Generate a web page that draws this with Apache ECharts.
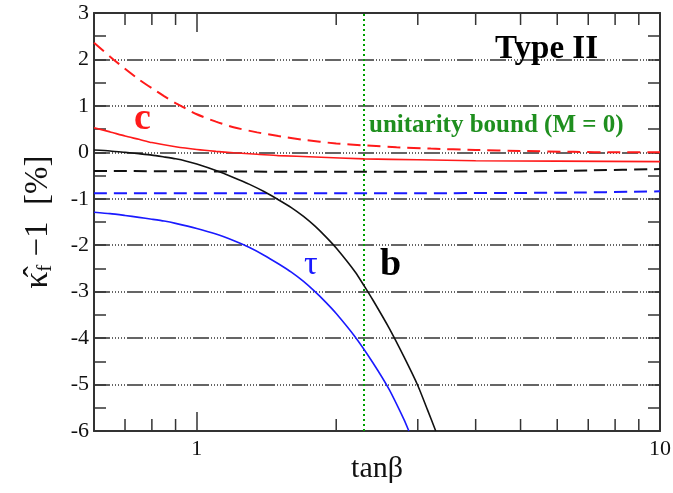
<!DOCTYPE html>
<html>
<head>
<meta charset="utf-8">
<script src="https://cdn.jsdelivr.net/npm/echarts@6/dist/echarts.min.js"></script>
<style>html,body{margin:0;padding:0;background:#fff;}#c{width:673px;height:493px;}</style>
</head>
<body>
<div id="c"></div>
<script>
// ---- data (x = tanβ, y = κ̂_f − 1 in %) ----
const curveB = [[0.6,0.05],[0.65,0.03],[0.7,0.0],[0.75,-0.03],[0.8,-0.06],[0.85,-0.1],[0.9,-0.14],[0.95,-0.19],[1.0,-0.25],[1.1,-0.39],[1.2,-0.54],[1.3,-0.69],[1.4,-0.85],[1.5,-1.02],[1.6,-1.19],[1.7,-1.38],[1.8,-1.59],[1.9,-1.82],[2.0,-2.06],[2.2,-2.58],[2.3,-2.88],[2.4,-3.18],[2.6,-3.78],[2.8,-4.4],[3.0,-5.02],[3.15,-5.55],[3.28,-6.0]];
const curveTau = [[0.6,-1.29],[0.65,-1.32],[0.7,-1.36],[0.75,-1.4],[0.8,-1.44],[0.85,-1.48],[0.9,-1.53],[1.0,-1.64],[1.1,-1.76],[1.2,-1.9],[1.3,-2.05],[1.4,-2.22],[1.5,-2.4],[1.6,-2.58],[1.7,-2.78],[1.8,-3.0],[1.9,-3.23],[2.0,-3.47],[2.2,-3.98],[2.4,-4.53],[2.6,-5.1],[2.8,-5.75],[2.87,-6.0]];
const curveC = [[0.6,0.53],[0.65,0.44],[0.7,0.35],[0.75,0.28],[0.8,0.21],[0.9,0.12],[1.0,0.06],[1.1,0.02],[1.2,-0.01],[1.35,-0.04],[1.5,-0.07],[1.8,-0.1],[2.3,-0.14],[3.0,-0.16],[4.0,-0.18],[6.0,-0.19],[10,-0.2]];
const curveCdash = [[0.6,2.36],[0.65,2.06],[0.7,1.8],[0.75,1.57],[0.8,1.38],[0.85,1.21],[0.9,1.06],[1.0,0.82],[1.1,0.66],[1.2,0.54],[1.35,0.43],[1.5,0.35],[1.7,0.27],[2.0,0.19],[2.3,0.15],[2.7,0.11],[3.2,0.08],[4.0,0.05],[5.0,0.03],[6.5,0.01],[8.0,0.0],[10,0.0]];
const curveBdash = [[0.6,-0.40],[2.0,-0.42],[5.0,-0.41],[7.0,-0.39],[10,-0.36]];
const curveTaudash = [[0.6,-0.88],[3.0,-0.88],[6.0,-0.87],[10,-0.84]];
const unitarityX = 2.29;
const xMinorTicks = [0.7,0.8,0.9,2,3,4,5,6,7,8,9];
const xRange = [0.6, 10];
const yRange = [-6, 3];

const chart = echarts.init(document.getElementById('c'));
const serif = 'Liberation Serif';
const frame = '#333';
const gridDash = [16,2,1,2,1,2,1,2,1,2,1,2];

function line(data, color, dashed, extra) {
  return Object.assign({
    type: 'line', data: data, showSymbol: false, smooth: 0.2, silent: true,
    xAxisIndex: 0, yAxisIndex: 0,
    lineStyle: { color: color, width: dashed ? 2 : 1.6, type: dashed ? [13,7] : 'solid' },
    z: 5
  }, extra || {});
}

const option = {
  animation: false,
  backgroundColor: '#fff',
  grid: { left: 94, right: 13, top: 13, bottom: 62, containLabel: false, outerBoundsMode: 'none' },
  xAxis: [
    { type: 'log', logBase: 10, min: xRange[0], max: xRange[1], position: 'bottom',
      name: 'tanβ', nameLocation: 'middle', nameGap: 23, nameMoveOverlap: false,
      nameTextStyle: { fontFamily: serif, fontSize: 30, color: '#111' },
      axisLine: { show: true, onZero: false, lineStyle: { color: frame, width: 2 } },
      axisTick: { show: true, inside: true, length: 19, lineStyle: { color: frame, width: 1.5 } },
      axisLabel: { showMinLabel: false, fontFamily: serif, fontSize: 22, color: '#111', margin: 7 },
      splitLine: { show: false }, minorTick: { show: false } },
    { type: 'log', logBase: 10, min: xRange[0], max: xRange[1], position: 'top',
      axisLine: { show: true, onZero: false, lineStyle: { color: frame, width: 2 } },
      axisTick: { show: true, inside: true, length: 19, lineStyle: { color: frame, width: 1.5 } },
      axisLabel: { show: false }, splitLine: { show: false } }
  ],
  yAxis: [
    { type: 'value', min: yRange[0], max: yRange[1], interval: 1, position: 'left',
      name: '{k|κ̂}{f|f}{m| −1  [%]}', nameLocation: 'middle', nameGap: 38,
      nameTextStyle: { fontFamily: serif, fontSize: 33, color: '#111',
        rich: {
          k: { fontFamily: serif, fontSize: 33, lineHeight: 36, color: '#111' },
          f: { fontFamily: serif, fontSize: 21, verticalAlign: 'bottom', lineHeight: 36, color: '#111' },
          m: { fontFamily: serif, fontSize: 33, lineHeight: 36, color: '#111' }
        } },
      axisLine: { show: true, lineStyle: { color: frame, width: 2 } },
      axisTick: { show: true, inside: true, length: 12, lineStyle: { color: frame, width: 1.5 } },
      minorTick: { show: true, splitNumber: 2, length: 12, lineStyle: { color: frame, width: 1.5 } },
      axisLabel: { fontFamily: serif, fontSize: 22, color: '#111', margin: 5 },
      splitLine: { show: true, lineStyle: { color: '#333', width: 1.5, type: gridDash } } },
    { type: 'value', min: yRange[0], max: yRange[1], interval: 1, position: 'right',
      axisLine: { show: true, lineStyle: { color: frame, width: 2 } },
      axisTick: { show: true, inside: true, length: 12, lineStyle: { color: frame, width: 1.5 } },
      minorTick: { show: true, splitNumber: 2, length: 12, lineStyle: { color: frame, width: 1.5 } },
      axisLabel: { show: false }, splitLine: { show: false } }
  ],
  series: [
    line(curveCdash, '#ff1a1a', true),
    line(curveC, '#ff1a1a', false),
    line(curveBdash, '#111', true),
    line(curveTaudash, '#1a1aff', true),
    line(curveB, '#111', false),
    line(curveTau, '#1a1aff', false, {
      markLine: { silent: true, symbol: ['none','none'], label: { show: false },
        lineStyle: { color: '#00a000', width: 2, type: [2,3] },
        data: [{ xAxis: unitarityX }] }
    }),
    { type: 'custom', xAxisIndex: 0, yAxisIndex: 0, silent: true, z: 6,
      data: xMinorTicks.map(v => [v, yRange[0]]),
      renderItem: function (params, api) {
        const v = api.value(0);
        const pb = api.coord([v, yRange[0]]);
        const pt = api.coord([v, yRange[1]]);
        const st = { stroke: frame, lineWidth: 1.5 };
        return { type: 'group', children: [
          { type: 'line', shape: { x1: pb[0], y1: pb[1], x2: pb[0], y2: pb[1] - 12 }, style: st },
          { type: 'line', shape: { x1: pt[0], y1: pt[1], x2: pt[0], y2: pt[1] + 12 }, style: st }
        ] };
      } }
  ],
  graphic: [
    { type: 'text', left: 495, top: 33, z: 10, style: { text: 'Type II', font: 'bold 33px "Liberation Serif"', fill: '#000' } },
    { type: 'text', left: 369, top: 113, z: 10, style: { text: 'unitarity bound (M = 0)', font: 'bold 25px "Liberation Serif"', fill: '#1f8f1f' } },
    { type: 'text', left: 134, top: 100, z: 10, style: { text: 'c', font: 'bold 38px "Liberation Serif"', fill: '#ff1a1a' } },
    { type: 'text', left: 304, top: 248, z: 10, style: { text: 'τ', font: '34px "Liberation Serif"', fill: '#1a1aff' } },
    { type: 'text', left: 380, top: 246, z: 10, style: { text: 'b', font: 'bold 38px "Liberation Serif"', fill: '#000' } }
  ]
};
chart.setOption(option);
</script>
</body>
</html>
